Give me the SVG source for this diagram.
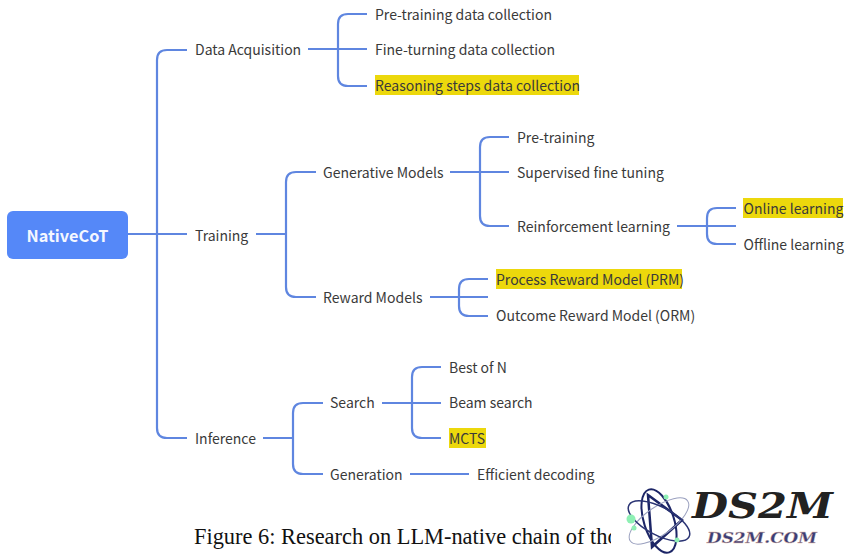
<svg xmlns="http://www.w3.org/2000/svg" width="850" height="555" viewBox="0 0 850 555">
<style>
.t{font-family:"Noto Sans CJK SC","Noto Sans",sans-serif;font-size:14px;fill:#3a3a3a}
.c{fill:none;stroke:#5f86e0;stroke-width:2.2}
.h{fill:#ecd80c}
</style>
<rect width="850" height="555" fill="#fff"/>
<g id="connectors" class="c">
<path d="M128 234H187M187 50H167Q157 50 157 60V428Q157 438 167 438H187"/>
<path d="M308 49H367M367 14H348Q338 14 338 24V76Q338 86 348 86H367"/>
<path d="M256 234H286M316 172H296Q286 172 286 182V287Q286 297 296 297H316"/>
<path d="M450 172H509M509 137H490Q480 137 480 147V216Q480 226 490 226H509"/>
<path d="M677 226H736M736 208H717Q707 208 707 218V234Q707 244 717 244H736"/>
<path d="M430 297H488M488 279H469Q459 279 459 289V306Q459 316 469 316H488"/>
<path d="M263 438H293M323 403H303Q293 403 293 413V464Q293 474 303 474H323"/>
<path d="M382 403H441M441 367H422Q412 367 412 377V428Q412 438 422 438H441"/>
<path d="M410 474H469"/>
</g>
<g id="n-root"><rect x="7" y="211" width="121" height="48" rx="6" fill="#5588f8"/><text x="67.500" y="241.500" text-anchor="middle" style="font-family:'Noto Sans CJK SC','Noto Sans',sans-serif;font-size:16.300px;font-weight:700;fill:#f4f7ff">NativeCoT</text></g>
<g id="n-data"><text class="t" x="195" y="55">Data Acquisition</text></g>
<g id="n-d1"><text class="t" x="375" y="19.500">Pre-training data collection</text></g>
<g id="n-d2"><text class="t" x="375" y="55">Fine-turning data collection</text></g>
<g id="n-d3"><rect class="h" x="375" y="75" width="204" height="20"/><text class="t" x="375" y="91">Reasoning steps data collection</text></g>
<g id="n-train"><text class="t" x="195" y="240.500">Training</text></g>
<g id="n-gen"><text class="t" x="323" y="178">Generative Models</text></g>
<g id="n-g1"><text class="t" x="517" y="142.500">Pre-training</text></g>
<g id="n-g2"><text class="t" x="517" y="178">Supervised fine tuning</text></g>
<g id="n-g3"><text class="t" x="517" y="231.500">Reinforcement learning</text></g>
<g id="n-on"><rect class="h" x="743" y="198" width="100" height="20"/><text class="t" x="743.500" y="213.500">Online learning</text></g>
<g id="n-off"><text class="t" x="743.500" y="249.500">Offline learning</text></g>
<g id="n-rew"><text class="t" x="323" y="302.500">Reward Models</text></g>
<g id="n-prm"><rect class="h" x="496" y="269" width="186" height="20"/><text class="t" x="496" y="285">Process Reward Model (PRM)</text></g>
<g id="n-orm"><text class="t" x="496" y="320.500">Outcome Reward Model (ORM)</text></g>
<g id="n-inf"><text class="t" x="195" y="443.500">Inference</text></g>
<g id="n-search"><text class="t" x="330" y="408">Search</text></g>
<g id="n-s1"><text class="t" x="449" y="372.500">Best of N</text></g>
<g id="n-s2"><text class="t" x="449" y="408">Beam search</text></g>
<g id="n-s3"><rect class="h" x="449" y="428" width="37" height="20"/><text class="t" x="449" y="444">MCTS</text></g>
<g id="n-gener"><text class="t" x="330" y="479.500">Generation</text></g>
<g id="n-eff"><text class="t" x="477" y="479.500">Efficient decoding</text></g>
<text x="194" y="544" style="font-family:'Liberation Serif',serif;font-size:22.400px;fill:#111">Figure 6: Research on LLM-native chain of tho</text>
<rect x="611" y="484" width="239" height="71" fill="#fff"/>
<g fill="none" stroke="#1c2566" stroke-width="2">
<ellipse cx="659" cy="521" rx="15" ry="33" transform="rotate(-18 659 521)"/>
<path d="M648 495L682 520L652 547Z" stroke-width="2.500"/>
<ellipse cx="659" cy="521" rx="14" ry="35" transform="rotate(55 659 521)" stroke="#9aa0bf" stroke-width="1"/>
<ellipse cx="659" cy="521" rx="14" ry="34" transform="rotate(-62 659 521)" stroke="#2b3474" stroke-width="1.500"/>
</g>
<g fill="#8ef0b4"><circle cx="631" cy="519" r="4.500"/><circle cx="634" cy="528" r="2.500"/><circle cx="666" cy="497" r="2.500"/><circle cx="677" cy="540" r="2.500"/></g>
<text x="692" y="518" style="font-family:'DejaVu Serif',serif;font-size:36px;font-weight:700;font-style:italic;fill:#222" textLength="141" lengthAdjust="spacingAndGlyphs">DS2M</text>
<text x="707" y="543" style="font-family:'DejaVu Serif',serif;font-size:15px;font-style:italic;font-weight:700;fill:#3a3f78;stroke:#e8c0a8;stroke-width:.3" textLength="110" lengthAdjust="spacingAndGlyphs">DS2M.COM</text>
</svg>
